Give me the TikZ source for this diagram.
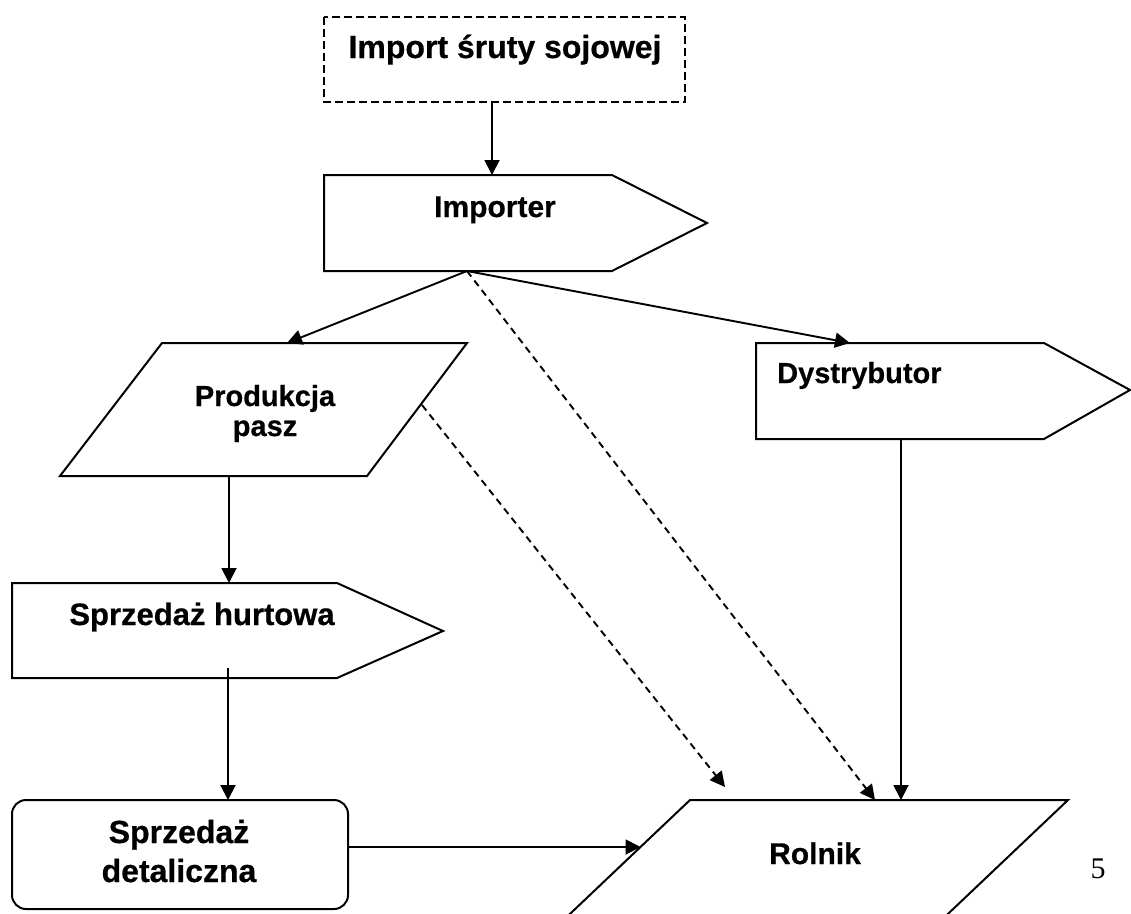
\documentclass[tikz,border=0pt]{standalone}
\usepackage{fontspec}
\setmainfont{Liberation Sans}
\newfontfamily\heavyfont[FakeBold=0.6]{Liberation Sans Bold}
\newfontfamily\serifnum{Liberation Serif}
\usetikzlibrary{arrows.meta}
\begin{document}
\begin{tikzpicture}[x=1pt,y=-1pt,
  shapeline/.style={draw=black, line width=2pt, line join=miter},
  dashshape/.style={shapeline, dash pattern=on 8pt off 4pt},
  conn/.style={draw=black, line width=1.9pt, -{Triangle[length=15pt,width=15pt]}},
  dconn/.style={conn, dash pattern=on 7pt off 5pt},
  lab/.style={inner sep=0pt, anchor=base, align=center}]
\useasboundingbox (0,0) rectangle (1131,913);
\clip (0,0) rectangle (1131,913);

% shapes
\draw[dashshape] (324,17) rectangle (685,102);
\draw[shapeline] (324,175) -- (612,175) -- (707,223) -- (612,271) -- (324,271) -- cycle;
\draw[shapeline] (162,343) -- (467,343) -- (367,476) -- (60,476) -- cycle;
\draw[shapeline] (756,343) -- (1044,343) -- (1130,390) -- (1044,439) -- (756,439) -- cycle;
\draw[shapeline] (12,583) -- (337,583) -- (443,631) -- (337,678) -- (12,678) -- cycle;
\draw[shapeline, rounded corners=14pt] (12,800) rectangle (348,909);
\draw[shapeline] (690,800) -- (1068,800) -- (931,930) -- (553,930) -- cycle;

% labels
\node[lab, font=\heavyfont\fontsize{32}{38}\selectfont] (timp) at (505,58) {Import śruty sojowej};
\node[lab, font=\heavyfont\fontsize{30}{36}\selectfont] (timr) at (495,217) {Importer};
\node[lab, font=\heavyfont\fontsize{29}{30}\selectfont] (tprod) at (265,436) {Produkcja\\pasz};
\node[lab, anchor=base west, font=\heavyfont\fontsize{29}{34}\selectfont] (tdys) at (777,383) {Dystrybutor};
\node[lab, font=\heavyfont\fontsize{31}{36}\selectfont] (thur) at (202,625) {Sprzedaż hurtowa};
\node[lab, font=\heavyfont\fontsize{32}{39}\selectfont] (tdet) at (179,882) {Sprzedaż\\detaliczna};
\node[lab, font=\heavyfont\fontsize{30}{36}\selectfont] (trol) at (815,864) {Rolnik};
\node[lab, font=\serifnum\fontsize{30}{36}\selectfont] (tnum) at (1098,878) {5};

% connection points
\coordinate (impS) at (492,102);
\coordinate (imrN) at (492,175);
\coordinate (imrS) at (467,271);
\coordinate (prodN) at (287,343);
\coordinate (dysN) at (850,343);
\coordinate (rolNa) at (875,800);
\coordinate (prodE) at (422,405);
\coordinate (rolD) at (725,787);
\coordinate (dysS) at (901,439);
\coordinate (rolNb) at (901,800);
\coordinate (prodS) at (229,476);
\coordinate (hurN) at (229,583);
\coordinate (hurS) at (228,668);
\coordinate (detN) at (228,800);
\coordinate (detE) at (348,847);
\coordinate (rolW) at (640.5,847);

% connectors
\draw[conn] (impS) -- (imrN);
\draw[conn] (imrS) -- (prodN);
\draw[conn] (imrS) -- (dysN);
\draw[dconn] (imrS) -- (rolNa);
\draw[dconn] (prodE) -- (rolD);
\draw[conn] (dysS) -- (rolNb);
\draw[conn] (prodS) -- (hurN);
\draw[conn] (hurS) -- (detN);
\draw[conn] (detE) -- (rolW);
\end{tikzpicture}
\end{document}
